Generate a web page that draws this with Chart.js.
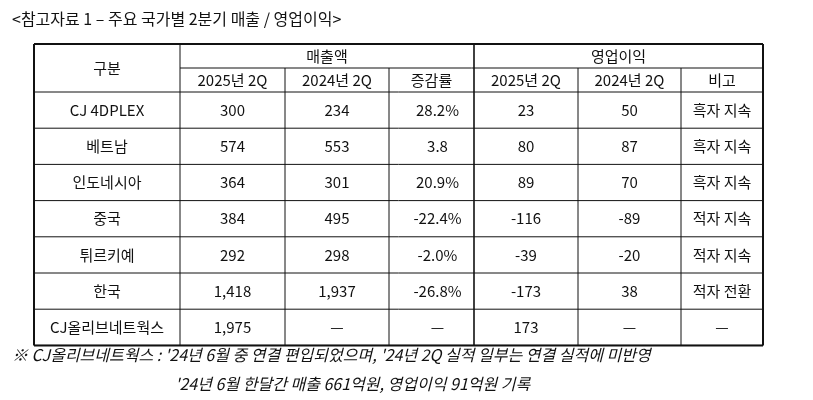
<!DOCTYPE html>
<html>
<head>
<meta charset="utf-8">
<script src="https://cdn.jsdelivr.net/npm/chart.js@4"></script>
<style>
  html, body { margin: 0; padding: 0; background: #fff; }
  #wrap { width: 813px; height: 400px; }
</style>
</head>
<body>
<div id="wrap"><canvas id="tableChart"></canvas></div>
<script>
// Table content
const title = '<참고자료 1 – 주요 국가별 2분기 매출 / 영업이익>';
const groupHeaders = ['매출액', '영업이익'];
const subHeaders = ['2025년 2Q', '2024년 2Q', '증감률', '2025년 2Q', '2024년 2Q', '비고'];
const categories = ['CJ 4DPLEX', '베트남', '인도네시아', '중국', '튀르키예', '한국', 'CJ올리브네트웍스'];
const sales2025 = ['300', '574', '364', '384', '292', '1,418', '1,975'];
const sales2024 = ['234', '553', '301', '495', '298', '1,937', '—'];
const salesChange = ['28.2%', '3.8', '20.9%', '-22.4%', '-2.0%', '-26.8%', '—'];
const profit2025 = ['23', '80', '89', '-116', '-39', '-173', '173'];
const profit2024 = ['50', '87', '70', '-89', '-20', '38', '—'];
const remarks = ['흑자 지속', '흑자 지속', '흑자 지속', '적자 지속', '적자 지속', '적자 전환', '—'];
const footnotes = [
    "※ CJ올리브네트웍스 : '24년 6월 중 연결 편입되었으며, '24년 2Q 실적 일부는 연결 실적에 미반영",
    "'24년 6월 한달간 매출 661억원, 영업이익 91억원 기록"
];

// Layout (page coordinates)
const colEdges = [34, 180, 285, 389, 474, 578, 681, 763];
const headTop = 44, headMid = 68, headBottom = 92;
const rowH = 36.2;
const FONT = '"Malgun Gothic", "Noto Sans CJK KR", sans-serif';

const tablePlugin = {
    id: 'tablePlugin',
    afterDraw(chart) {
        const { ctx, scales: { x, y } } = chart;
        const px = v => x.getPixelForValue(v);
        const py = v => y.getPixelForValue(v);
        const line = (x1, y1, x2, y2, w) => {
            ctx.lineWidth = w;
            ctx.beginPath();
            ctx.moveTo(px(x1), py(y1));
            ctx.lineTo(px(x2), py(y2));
            ctx.stroke();
        };
        const text = (s, cx, cy, align) => {
            ctx.textAlign = align || 'center';
            ctx.fillText(s, px(cx), py(cy));
        };

        ctx.save();
        ctx.fillStyle = '#111';
        ctx.strokeStyle = '#111';
        ctx.textBaseline = 'middle';
        ctx.font = '16px ' + FONT;
        text(title, 12, 19, 'left');

        const bottom = headBottom + rowH * categories.length;
        const L = colEdges[0], R = colEdges[colEdges.length - 1];

        // inner horizontal lines
        line(colEdges[1], headMid, R, headMid, 1);
        for (let i = 0; i <= categories.length; i++) {
            line(L, headBottom + rowH * i, R, headBottom + rowH * i, 1);
        }
        // vertical lines
        colEdges.slice(1, -1).forEach(cx => {
            const top = (cx === colEdges[1] || cx === colEdges[4]) ? headTop : headMid;
            line(cx, top, cx, bottom, cx === colEdges[4] ? 1.6 : 1);
        });
        // outer border
        line(L, headTop, R, headTop, 2);
        line(L, bottom, R, bottom, 2);
        line(L, headTop, L, bottom, 2);
        line(R, headTop, R, bottom, 2);

        // headers
        ctx.font = '15px ' + FONT;
        text('구분', (colEdges[0] + colEdges[1]) / 2, (headTop + headBottom) / 2);
        text(groupHeaders[0], (colEdges[1] + colEdges[4]) / 2, (headTop + headMid) / 2);
        text(groupHeaders[1], (colEdges[4] + colEdges[7]) / 2, (headTop + headMid) / 2);
        subHeaders.forEach((s, i) => text(s, (colEdges[i + 1] + colEdges[i + 2]) / 2, (headMid + headBottom) / 2));

        // body
        const cols = [categories, sales2025, sales2024, salesChange, profit2025, profit2024, remarks];
        categories.forEach((_, r) => {
            const cy = headBottom + rowH * (r + 0.5);
            cols.forEach((col, c) => {
                let cx = (colEdges[c] + colEdges[c + 1]) / 2;
                if (c === 3) cx += 6;
                text(col[r], cx, cy);
            });
        });

        // footnotes
        ctx.font = 'italic 16px ' + FONT;
        text(footnotes[0], 12, 355, 'left');
        text(footnotes[1], 175, 384, 'left');
        ctx.restore();
    }
};

new Chart(document.getElementById('tableChart'), {
    type: 'scatter',
    data: { datasets: [{ data: [] }] },
    options: {
        responsive: true,
        maintainAspectRatio: false,
        animation: false,
        layout: { padding: 0 },
        plugins: { legend: { display: false }, tooltip: { enabled: false } },
        scales: {
            x: { type: 'linear', min: 0, max: 813, display: false },
            y: { type: 'linear', min: 0, max: 400, reverse: true, display: false }
        }
    },
    plugins: [tablePlugin]
});
</script>
</body>
</html>
